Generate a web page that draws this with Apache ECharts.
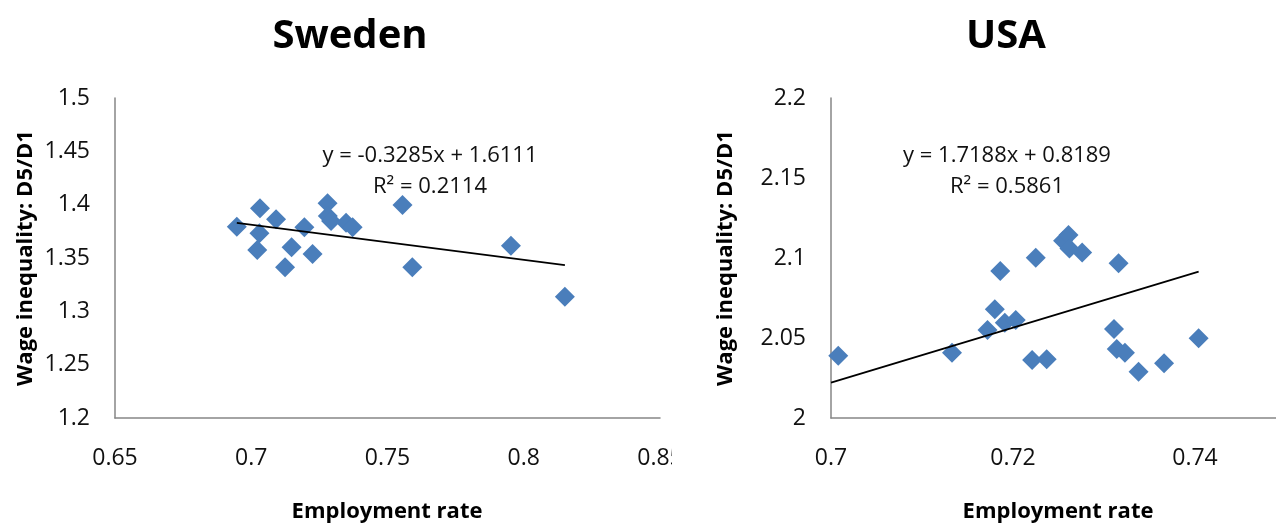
<!DOCTYPE html>
<html>
<head>
<meta charset="utf-8">
<script src="https://cdn.jsdelivr.net/npm/echarts@6/dist/echarts.min.js"></script>
<style>
  html, body { margin: 0; padding: 0; background: #fff; }
  #wrap { position: relative; width: 1276px; height: 525px; overflow: hidden; background: #fff; }
  .clip { position: absolute; top: 0; height: 525px; overflow: hidden; }
  #clipL { left: 0; width: 672px; }
  #clipR { left: 672px; width: 604px; }
  .chart { position: absolute; left: 0; top: 0; width: 800px; height: 525px; }
</style>
</head>
<body>
<div id="wrap">
  <div class="clip" id="clipL"><div class="chart" id="left"></div></div>
  <div class="clip" id="clipR"><div class="chart" id="right"></div></div>
</div>
<script>
// ---- Sweden ----
const swedenEmployment = [0.6947, 0.7032, 0.7030, 0.7022, 0.7091, 0.7148, 0.7124, 0.7195, 0.7225, 0.7280, 0.7281, 0.7293, 0.7348, 0.7372, 0.7555, 0.7591, 0.7953, 0.8151];
const swedenInequality = [1.3793, 1.3966, 1.3731, 1.3575, 1.3863, 1.3600, 1.3413, 1.3788, 1.3537, 1.4013, 1.3894, 1.3847, 1.3831, 1.3788, 1.3997, 1.3413, 1.3615, 1.3137];
const swedenTrend = { slope: -0.3285, intercept: 1.6111, r2: '0.2114' };
const swedenXTicks = [0.65, 0.7, 0.75, 0.8, 0.85];
const swedenYTicks = [1.2, 1.25, 1.3, 1.35, 1.4, 1.45, 1.5];

// ---- USA ----
const usaEmployment = [0.7008, 0.7133, 0.7172, 0.7180, 0.7191, 0.7203, 0.7186, 0.7221, 0.7237, 0.7225, 0.7255, 0.7261, 0.7262, 0.7276, 0.7316, 0.7311, 0.7314, 0.7323, 0.7338, 0.7366, 0.7404];
const usaInequality = [2.0389, 2.0408, 2.0550, 2.0679, 2.0596, 2.0613, 2.0919, 2.0363, 2.0367, 2.1002, 2.1108, 2.1144, 2.1060, 2.1035, 2.0967, 2.0556, 2.0431, 2.0408, 2.0289, 2.0342, 2.0498];
const usaTrend = { slope: 1.7188, intercept: 0.8189, r2: '0.5861' };
const usaXTicks = [0.7, 0.72, 0.74, 0.76];
const usaYTicks = [2, 2.05, 2.1, 2.15, 2.2];

const FONT = '"Open Sans", "Liberation Sans", sans-serif';
const BLUE = '#4A7EBB';

function fmt(v) { return String(parseFloat(v.toFixed(4))); }

function buildOption(cfg) {
  const pts = cfg.xs.map((x, i) => [x, cfg.ys[i]]);
  const xmin = Math.min(...cfg.xs), xmax = Math.max(...cfg.xs);
  const trendStart = cfg.trendFrom !== undefined ? cfg.trendFrom : xmin;
  const line = [trendStart, xmax].map(x => [x, cfg.trend.slope * x + cfg.trend.intercept]);
  const sign = cfg.trend.intercept >= 0 ? '+' : '-';
  const eq = 'y = ' + cfg.trend.slope.toFixed(4) + 'x ' + sign + ' ' + Math.abs(cfg.trend.intercept).toFixed(4);
  return {
    animation: false,
    backgroundColor: '#fff',
    textStyle: { fontFamily: FONT },
    grid: { left: cfg.gridLeft, top: 98, width: cfg.gridWidth, height: 320, containLabel: false, outerBoundsMode: 'none' },
    xAxis: {
      type: 'value', min: cfg.xTicks[0], max: cfg.xTicks[cfg.xTicks.length - 1], interval: cfg.xInterval,
      splitLine: { show: false },
      axisLine: { show: true, onZero: false, lineStyle: { color: '#868686', width: 1.5 } },
      axisTick: { show: false },
      axisLabel: { color: '#111', fontSize: 23, fontFamily: FONT, margin: 29, formatter: fmt, showMaxLabel: true, showMinLabel: true, hideOverlap: false }
    },
    yAxis: {
      type: 'value', min: cfg.yTicks[0], max: cfg.yTicks[cfg.yTicks.length - 1], interval: 0.05,
      splitLine: { show: false },
      axisLine: { show: true, onZero: false, lineStyle: { color: '#868686', width: 1.5 } },
      axisTick: { show: false },
      axisLabel: { color: '#111', fontSize: 23, fontFamily: FONT, margin: 25, formatter: fmt, showMaxLabel: true, showMinLabel: true, hideOverlap: false }
    },
    graphic: [
      { type: 'text', style: { text: cfg.title, font: 'bold 40px ' + FONT, fill: '#000', x: cfg.titleX, y: 37, align: 'center', verticalAlign: 'middle' } },
      { type: 'text', style: { text: eq, font: '22px ' + FONT, fill: '#111', x: cfg.eqX, y: 156, align: 'center', verticalAlign: 'middle' } },
      { type: 'text', style: { text: 'R² = ' + cfg.trend.r2, font: '22px ' + FONT, fill: '#111', x: cfg.eqX, y: 187, align: 'center', verticalAlign: 'middle' } },
      { type: 'text', style: { text: 'Employment rate', font: 'bold 22px ' + FONT, fill: '#000', x: cfg.xNameX, y: 512, align: 'center', verticalAlign: 'middle' } },
      { type: 'text', rotation: Math.PI / 2, x: cfg.yNameX, y: 258, style: { text: 'Wage inequality: D5/D1', font: 'bold 22px ' + FONT, fill: '#000', x: 0, y: 0, align: 'center', verticalAlign: 'middle' } }
    ],
    series: [
      { type: 'scatter', data: pts, symbol: 'diamond', symbolSize: 20, itemStyle: { color: BLUE, opacity: 1 }, z: 2 },
      { type: 'line', data: line, symbol: 'none', lineStyle: { color: '#000', width: 1.8 }, z: 3, silent: true }
    ]
  };
}

const leftChart = echarts.init(document.getElementById('left'), null, { renderer: 'canvas' });
leftChart.setOption(buildOption({
  xs: swedenEmployment, ys: swedenInequality, trend: swedenTrend,
  xTicks: swedenXTicks, yTicks: swedenYTicks, xInterval: 0.05,
  gridLeft: 115, gridWidth: 545,
  title: 'Sweden', titleX: 350, eqX: 430, xNameX: 387, yNameX: 26
}));

const rightChart = echarts.init(document.getElementById('right'), null, { renderer: 'canvas' });
rightChart.setOption(buildOption({
  xs: usaEmployment, ys: usaInequality, trend: usaTrend,
  xTicks: usaXTicks, yTicks: usaYTicks, xInterval: 0.02,
  gridLeft: 159, gridWidth: 546, trendFrom: 0.7,
  title: 'USA', titleX: 1006 - 672, eqX: 1007 - 672, xNameX: 1058 - 672, yNameX: 726 - 672
}));
</script>
</body>
</html>
